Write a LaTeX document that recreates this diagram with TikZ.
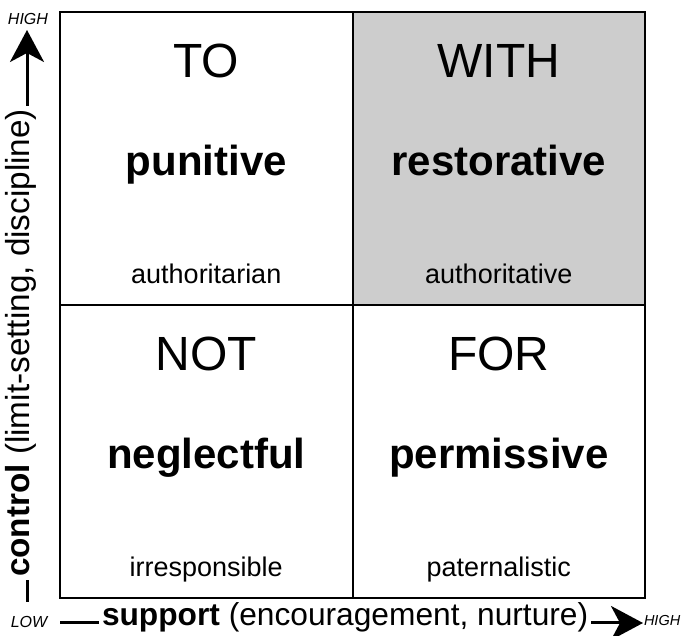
\documentclass[tikz,border=0pt]{standalone}
\usepackage{fontspec}
\setmainfont{Liberation Sans}
\usetikzlibrary{positioning, arrows.meta}
\definecolor{CellGray}{RGB}{205, 205, 205}

\begin{document}
\begin{tikzpicture}[x=1pt, y=1pt, every node/.style={inner sep=0pt, outer sep=0pt},
  cell/.style={rectangle, draw, line width=2pt, minimum width=292.5pt, minimum height=293pt},
  mode/.style={anchor=base, font=\fontsize{48}{56}\selectfont},
  approach/.style={anchor=base, font=\fontsize{42}{50}\selectfont\bfseries},
  stance/.style={anchor=base, font=\fontsize{27}{32}\selectfont},
  axis/.style={inner sep=3pt, font=\fontsize{31.7}{36}\selectfont},
  endlabel/.style={font=\fontsize{16}{19}\selectfont\itshape},
  axisline/.style={line width=3pt},
  axisarrow/.style={axisline, -{Stealth[length=32pt 0, width=34pt 0, inset=9pt]}}]
\useasboundingbox (0,0) rectangle (688,636);
\node (to) [cell] at (206.25, 477.5) {};
\node (with) [cell, fill=CellGray, right=0pt of to] {};
\node (not) [cell, below=0pt of to] {};
\node (for) [cell, right=0pt of not] {};
\node (toword) [mode] at ([yshift=-66pt]to.north) {TO};
\node (topun) [approach] at ([yshift=-164pt]to.north) {punitive};
\node (toauth) [stance] at ([yshift=21pt]to.south) {authoritarian};
\node (withword) [mode] at ([yshift=-66pt]with.north) {WITH};
\node (withrest) [approach] at ([yshift=-164pt]with.north) {restorative};
\node (withauth) [stance] at ([yshift=21pt]with.south) {authoritative};
\node (notword) [mode] at ([yshift=-66pt]not.north) {NOT};
\node (notneg) [approach] at ([yshift=-164pt]not.north) {neglectful};
\node (notirr) [stance] at ([yshift=21pt]not.south) {irresponsible};
\node (forword) [mode] at ([yshift=-66pt]for.north) {FOR};
\node (forperm) [approach] at ([yshift=-164pt]for.north) {permissive};
\node (forpat) [stance] at ([yshift=21pt]for.south) {paternalistic};
% control axis
\node (ctrl) [axis, rotate=90, anchor=mid west, font=\fontsize{33.3}{38}\selectfont] at (27, 56) {\textbf{control} (limit-setting, discipline)};
\coordinate (ctrlfoot) at (27, 34);
\coordinate (ctrltip) at (27, 606);
\node (highup) [endlabel, anchor=base] at (28, 611) {HIGH};
\draw[axisline] (ctrlfoot) -- (ctrl.mid west);
\draw[axisarrow] (ctrl.mid east) -- (ctrltip);
% support axis
\node (lowend) [endlabel, anchor=base] at (29, 8) {LOW};
\coordinate (suppfoot) at (60, 13);
\coordinate (supptip) at (643, 13);
\node (supp) [axis, anchor=mid west] at (99, 13) {\textbf{support} (encouragement, nurture)};
\node (highright) [endlabel, anchor=mid west, font=\fontsize{14.5}{17}\selectfont\itshape] at (644, 13) {HIGH};
\draw[axisline] (suppfoot) -- (supp.mid west);
\draw[axisarrow] (supp.mid east) -- (supptip);
\end{tikzpicture}
\end{document}
